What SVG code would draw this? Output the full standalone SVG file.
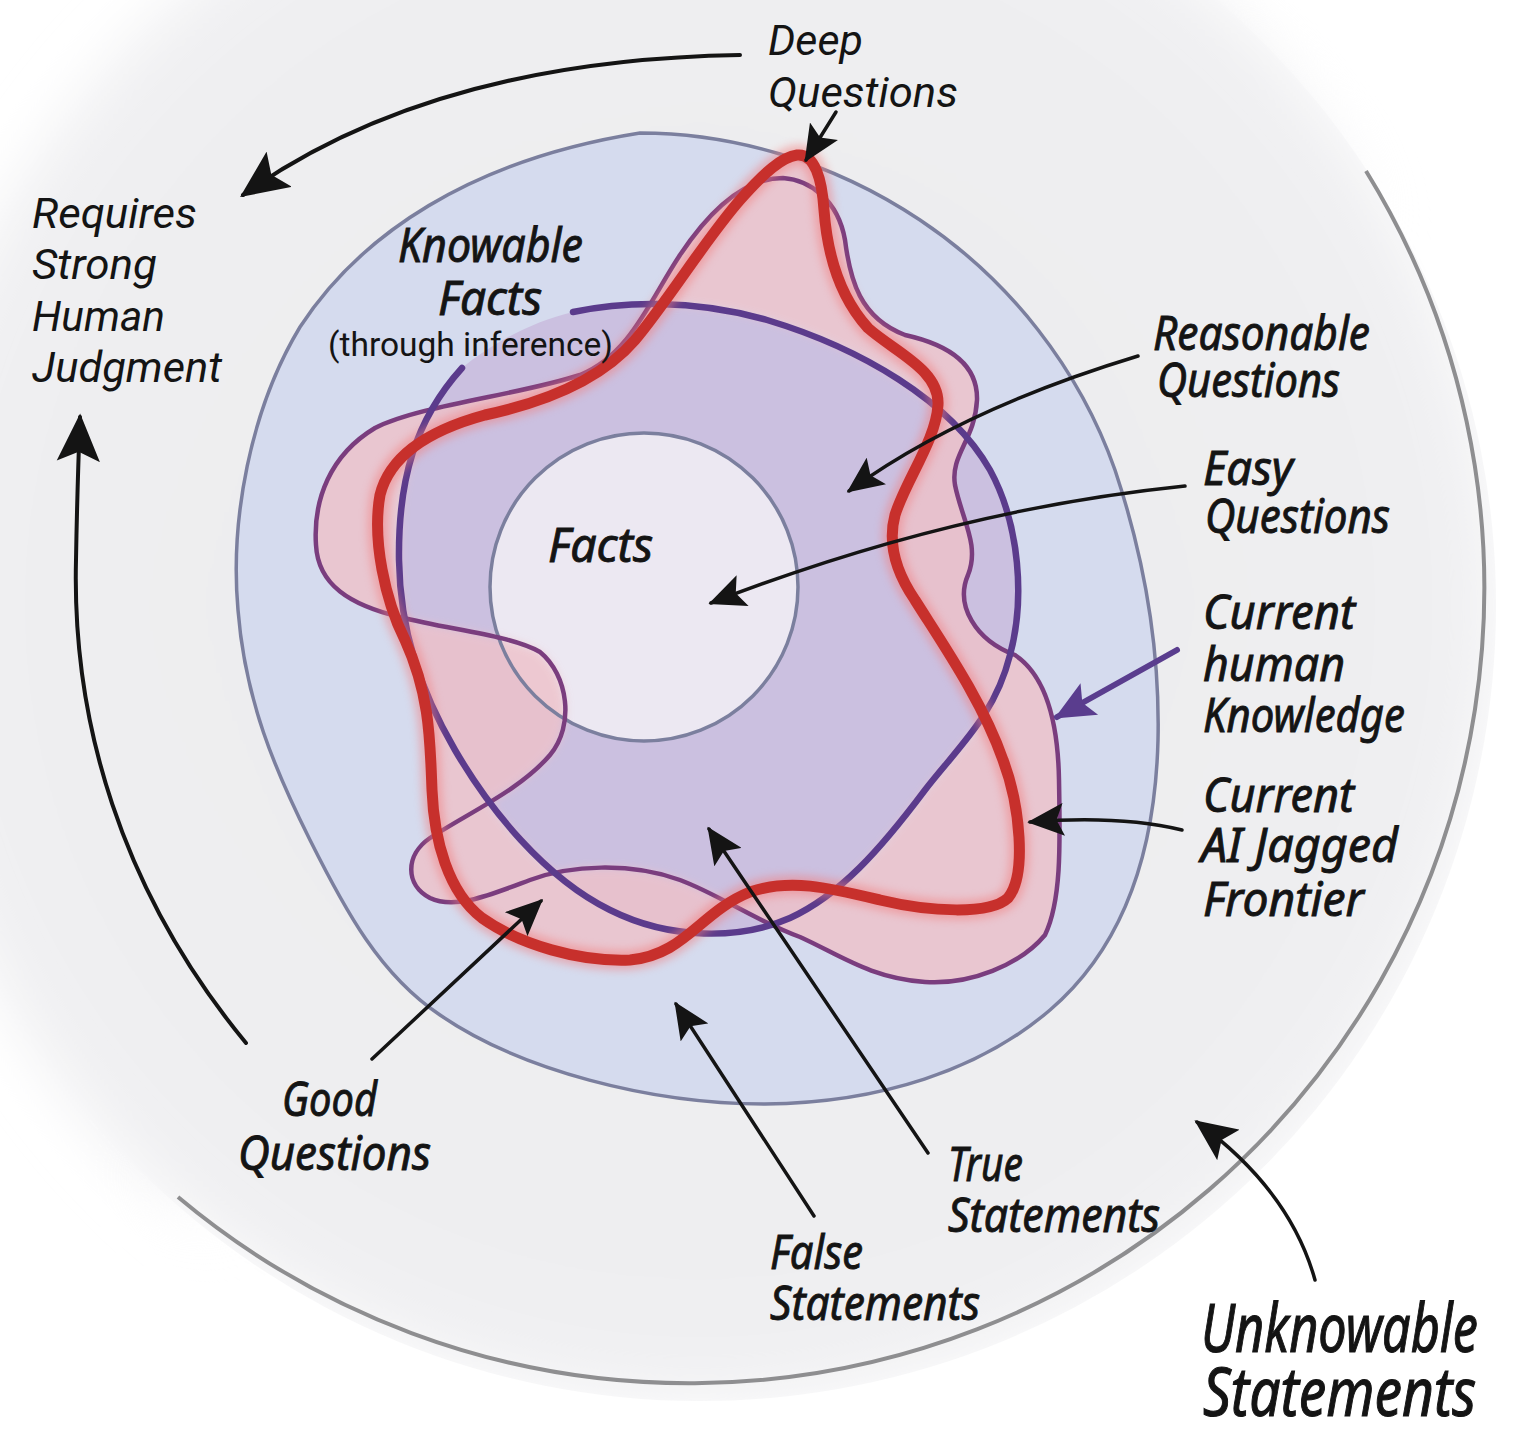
<svg xmlns="http://www.w3.org/2000/svg" width="1526" height="1448" viewBox="0 0 1526 1448">
<style>
.typed{font-family:Roboto,"Liberation Sans",sans-serif;font-style:italic;font-size:43px;fill:#141414}
.plain{font-family:Roboto,"Liberation Sans",sans-serif;font-size:33px;fill:#141414}
.hand{font-family:"Noto Sans","DejaVu Sans",sans-serif;font-style:italic;font-size:47px;fill:#141414;stroke:#141414;stroke-width:0.9}
.big{font-size:54px}
.arr{fill:none;stroke:#141414;stroke-width:3.5;stroke-linecap:round}
.arc{fill:none;stroke:#141414;stroke-width:4;stroke-linecap:round}
.parr{fill:none;stroke:#5a3d8e;stroke-width:6;stroke-linecap:round}
</style>
<defs>
  <radialGradient id="discGrad" cx="700" cy="605" r="795" gradientUnits="userSpaceOnUse">
    <stop offset="0" stop-color="#ebebef"/>
    <stop offset="0.8" stop-color="#eeeef0"/>
    <stop offset="1" stop-color="#f1f1f3"/>
  </radialGradient>
  <path id="redShape" d="M 797,155 C 815,153 822,180 824,210 C 827,250 838,295 868,328 C 895,352 940,370 938,405 C 936,440 906,480 895,515 C 887,545 898,575 915,600 C 940,640 982,700 1003,760 C 1020,805 1027,875 1008,898 C 990,915 930,912 880,900 C 830,888 790,878 750,892 C 700,912 685,955 630,960 C 580,962 520,945 482,918 C 448,892 434,840 432,790 C 430,740 430,695 405,640 C 385,600 372,540 380,495 C 390,455 430,430 485,415 C 555,400 605,375 635,340 C 670,298 705,240 740,200 C 765,172 782,157 797,155 Z"/>
  <path id="thinShape" d="M 783,178 C 810,180 838,200 845,240 C 850,280 860,318 905,335 C 950,345 978,365 977,400 C 975,440 950,455 955,485 C 962,520 980,545 968,575 C 955,605 975,640 1015,655 C 1045,675 1058,720 1059,780 C 1060,840 1062,900 1045,935 C 1020,965 970,985 925,982 C 870,978 840,955 800,937 C 750,918 720,895 680,880 C 630,862 570,865 530,880 C 490,895 455,910 430,898 C 405,885 405,855 430,838 C 470,812 520,790 550,755 C 575,725 568,675 540,652 C 510,635 450,630 400,617 C 350,605 318,585 316,545 C 313,500 330,455 375,428 C 420,405 520,395 580,375 C 630,355 650,300 680,255 C 710,210 745,178 783,178 Z"/>
  <path id="circShape" d="M 573,312 C 620,302 690,298 767,320 C 860,348 950,400 990,470 C 1020,525 1025,600 1010,655 C 995,715 960,745 925,790 C 880,850 840,895 790,918 C 740,940 670,940 610,910 C 545,878 490,810 455,750 C 420,690 400,630 399,560 C 398,480 415,420 462,368 C 490,345 530,322 573,312 Z"/>
  <clipPath id="clipCirc"><use href="#circShape"/></clipPath>
  <clipPath id="clipThin"><use href="#thinShape"/></clipPath>
  <filter id="soft" x="-10%" y="-10%" width="120%" height="120%"><feGaussianBlur stdDeviation="5"/></filter>
  <filter id="blur" x="-10%" y="-10%" width="120%" height="120%"><feGaussianBlur stdDeviation="4"/></filter>
  <filter id="discBlur" x="-20%" y="-20%" width="140%" height="140%"><feGaussianBlur stdDeviation="28"/></filter>
  <filter id="maskBlur" x="-20%" y="-20%" width="140%" height="140%"><feGaussianBlur stdDeviation="45"/></filter>
  <mask id="discMask" maskUnits="userSpaceOnUse" x="-500" y="-500" width="2600" height="2600">
    <circle cx="700" cy="605" r="796" fill="#fff"/>
    <path d="M 1366,171 L 178,1197 L -500,1800 L -500,-500 L 1000,-500 Z" fill="#fff" filter="url(#maskBlur)"/>
  </mask>
  <mask id="pinkMask" maskUnits="userSpaceOnUse" x="0" y="0" width="1526" height="1448">
    <rect width="1526" height="1448" fill="#fff"/>
    <g filter="url(#soft)">
      <g clip-path="url(#clipCirc)"><g clip-path="url(#clipThin)"><use href="#redShape" fill="#000"/></g></g>
    </g>
  </mask>
  <marker id="ah" viewBox="0 0 40 36" refX="37" refY="18" markerWidth="37" markerHeight="33" markerUnits="userSpaceOnUse" orient="auto">
    <path d="M0,0 L40,18 L0,36 L8,18 Z" fill="#141414"/>
  </marker>
  <marker id="ahBig" viewBox="0 0 40 36" refX="37" refY="18" markerWidth="48" markerHeight="44" markerUnits="userSpaceOnUse" orient="auto">
    <path d="M0,0 L40,18 L0,36 L8,18 Z" fill="#141414"/>
  </marker>
  <marker id="ahMid" viewBox="0 0 40 36" refX="37" refY="18" markerWidth="42" markerHeight="38" markerUnits="userSpaceOnUse" orient="auto">
    <path d="M0,0 L40,18 L0,36 L8,18 Z" fill="#141414"/>
  </marker>
  <marker id="ahP" viewBox="0 0 40 36" refX="37" refY="18" markerWidth="40" markerHeight="38" markerUnits="userSpaceOnUse" orient="auto">
    <path d="M0,0 L40,18 L0,36 L8,18 Z" fill="#5a3d8e"/>
  </marker>
</defs>

<rect width="1526" height="1448" fill="#ffffff"/>

<g id="unknowable">
  <g mask="url(#discMask)">
    <circle cx="700" cy="605" r="800" fill="url(#discGrad)" filter="url(#discBlur)"/>
  </g>
  <path d="M 1366,171 A 795 795 0 0 1 178,1197" fill="none" stroke="#8e8e90" stroke-width="4"/>
</g>

<g id="knowable-facts">
  <path d="M 640,133 C 730,133 830,160 920,220 C 1010,280 1080,370 1115,470 C 1145,560 1160,650 1158,740 C 1155,860 1120,950 1050,1010 C 980,1070 880,1103 765,1104 C 650,1104 520,1070 440,1015 C 380,975 345,910 310,840 C 275,770 245,700 238,610 C 230,520 250,410 300,327 C 360,235 470,160 640,133 Z" fill="#d5dbee" stroke="#7b7f9e" stroke-width="3.5"/>
</g>

<g id="regions">
  <use href="#circShape" fill="#cbc0e0"/>
  <circle cx="644" cy="587" r="154" fill="#ece8f2"/>
  <g mask="url(#pinkMask)" opacity="0.82">
    <use href="#redShape" fill="#eec2ca"/>
    <use href="#thinShape" fill="#eec2ca"/>
  </g>
</g>

<g id="facts">
  <circle cx="644" cy="587" r="154" fill="none" stroke="#7b7f9e" stroke-width="3.5"/>
</g>

<g id="human-knowledge">
  <use href="#thinShape" fill="none" stroke="#7a3d7e" stroke-width="4.5"/>
</g>

<g id="knowledge-circle">
  <path d="M 573,312 C 620,302 690,298 767,320 C 860,348 950,400 990,470 C 1020,525 1025,600 1010,655 C 995,715 960,745 925,790 C 880,850 840,895 790,918 C 740,940 670,940 610,910 C 545,878 490,810 455,750 C 420,690 400,630 399,560 C 398,480 415,420 462,368" fill="none" stroke="#5b3b8c" stroke-width="6.5" stroke-linecap="round"/>
</g>

<g id="ai-frontier">
  <use href="#redShape" fill="none" stroke="#f27b7b" stroke-width="20" opacity="0.5" filter="url(#blur)"/>
  <use href="#redShape" fill="none" stroke="#c7302c" stroke-width="11" stroke-linejoin="round"/>
</g>

<g id="connectors">
  <path class="arr" d="M 836,112 L 806,160" marker-end="url(#ah)"/>
  <path class="arc" d="M 740,55 Q 432,60 243,195" marker-end="url(#ahBig)"/>
  <path class="arc" d="M 246,1043 C 120,890 72,720 76,560 C 77,500 78,470 80,417" marker-end="url(#ahBig)"/>
  <path class="arr" d="M 1138,356 Q 960,410 849,491" marker-end="url(#ah)"/>
  <path class="arr" d="M 1185,486 Q 950,510 711,603" marker-end="url(#ah)"/>
  <path class="parr" d="M 1177,650 L 1057,717" marker-end="url(#ahP)"/>
  <path class="arr" d="M 1182,830 Q 1120,815 1030,822" marker-end="url(#ah)"/>
  <path class="arr" d="M 372,1059 L 541,901" marker-end="url(#ah)"/>
  <path class="arr" d="M 928,1153 L 709,829" marker-end="url(#ah)"/>
  <path class="arr" d="M 814,1216 L 676,1004" marker-end="url(#ah)"/>
  <path class="arr" d="M 1315,1280 Q 1290,1190 1197,1122" marker-end="url(#ahMid)"/>
</g>

<g id="label-requires">
  <text class="typed"><tspan x="32" y="228" textLength="165" lengthAdjust="spacingAndGlyphs">Requires</tspan><tspan x="32" y="279" textLength="125" lengthAdjust="spacingAndGlyphs">Strong</tspan><tspan x="32" y="331" textLength="133" lengthAdjust="spacingAndGlyphs">Human</tspan><tspan x="32" y="382" textLength="190" lengthAdjust="spacingAndGlyphs">Judgment</tspan></text>
</g>
<g id="label-deep">
  <text class="typed"><tspan x="768" y="55" textLength="95" lengthAdjust="spacingAndGlyphs">Deep</tspan><tspan x="768" y="107" textLength="190" lengthAdjust="spacingAndGlyphs">Questions</tspan></text>
</g>
<g id="label-knowable">
  <text class="hand"><tspan x="398" y="262" textLength="185" lengthAdjust="spacingAndGlyphs">Knowable</tspan><tspan x="438" y="315" textLength="104" lengthAdjust="spacingAndGlyphs">Facts</tspan></text>
  <text class="plain" x="328" y="356" textLength="285" lengthAdjust="spacingAndGlyphs">(through inference)</text>
</g>
<g id="label-facts">
  <text class="hand" x="548" y="562" textLength="105" lengthAdjust="spacingAndGlyphs">Facts</text>
</g>
<g id="label-reasonable">
  <text class="hand"><tspan x="1153" y="350" textLength="217" lengthAdjust="spacingAndGlyphs">Reasonable</tspan><tspan x="1157" y="397" textLength="183" lengthAdjust="spacingAndGlyphs">Questions</tspan></text>
</g>
<g id="label-easy">
  <text class="hand"><tspan x="1203" y="485" textLength="90" lengthAdjust="spacingAndGlyphs">Easy</tspan><tspan x="1205" y="533" textLength="185" lengthAdjust="spacingAndGlyphs">Questions</tspan></text>
</g>
<g id="label-human">
  <text class="hand"><tspan x="1203" y="629" textLength="152" lengthAdjust="spacingAndGlyphs">Current</tspan><tspan x="1203" y="681" textLength="142" lengthAdjust="spacingAndGlyphs">human</tspan><tspan x="1203" y="732" textLength="202" lengthAdjust="spacingAndGlyphs">Knowledge</tspan></text>
</g>
<g id="label-ai">
  <text class="hand"><tspan x="1203" y="812" textLength="151" lengthAdjust="spacingAndGlyphs">Current</tspan><tspan x="1201" y="862" textLength="197" lengthAdjust="spacingAndGlyphs">AI Jagged</tspan><tspan x="1203" y="916" textLength="161" lengthAdjust="spacingAndGlyphs">Frontier</tspan></text>
</g>
<g id="label-true">
  <text class="hand"><tspan x="948" y="1181" textLength="75" lengthAdjust="spacingAndGlyphs">True</tspan><tspan x="948" y="1232" textLength="212" lengthAdjust="spacingAndGlyphs">Statements</tspan></text>
</g>
<g id="label-false">
  <text class="hand"><tspan x="770" y="1269" textLength="93" lengthAdjust="spacingAndGlyphs">False</tspan><tspan x="770" y="1320" textLength="210" lengthAdjust="spacingAndGlyphs">Statements</tspan></text>
</g>
<g id="label-good">
  <text class="hand"><tspan x="282" y="1116" textLength="95" lengthAdjust="spacingAndGlyphs">Good</tspan><tspan x="238" y="1170" textLength="193" lengthAdjust="spacingAndGlyphs">Questions</tspan></text>
</g>
<g id="label-unknowable">
  <text class="hand big" transform="scale(1,1.25)"><tspan x="1201" y="1081.6" textLength="277" lengthAdjust="spacingAndGlyphs">Unknowable</tspan><tspan x="1203" y="1132.8" textLength="273" lengthAdjust="spacingAndGlyphs">Statements</tspan></text>
</g>
</svg>
